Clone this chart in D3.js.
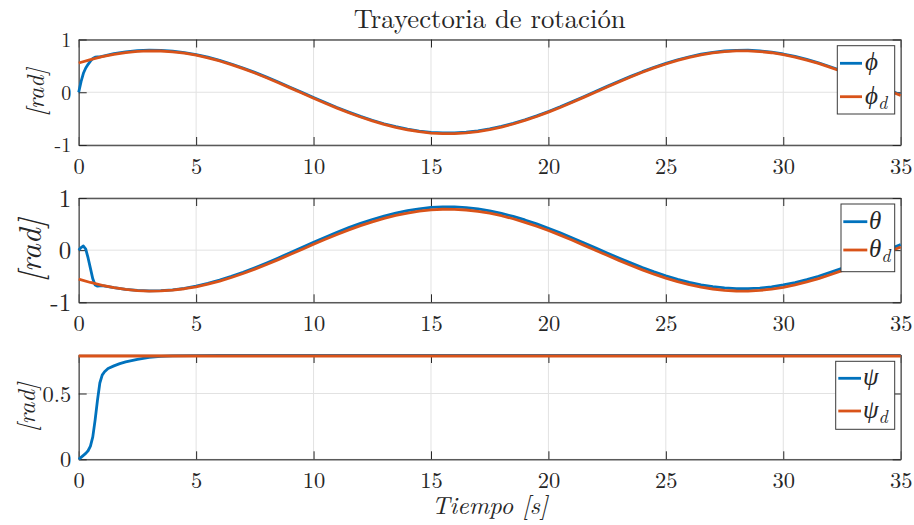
<!DOCTYPE html>
<html>
<head>
<meta charset="utf-8">
<script src="https://cdn.jsdelivr.net/npm/d3@7"></script>
<style>
  html, body { margin: 0; padding: 0; background: #fff; }
  svg { display: block; }
</style>
</head>
<body>
<svg id="chart" width="914" height="525"></svg>
<script>
// ---- data -------------------------------------------------------------
const titleText = "Trayectoria de rotación";
const xLabelText = "Tiempo [s]";
const yLabelText = "[rad]";
const xTicks = [0, 5, 10, 15, 20, 25, 30, 35];
const yTicksAngle = [-1, 0, 1];
const yTicksPsi = [0, 0.5];

// reference time grid (s)
const tRef = [0,0.5,1,1.5,2,2.5,3,3.5,4,4.5,5,5.5,6,6.5,7,7.5,8,8.5,9,9.5,10,10.5,11,11.5,12,12.5,13,13.5,14,14.5,15,15.5,16,16.5,17,17.5,18,18.5,19,19.5,20,20.5,21,21.5,22,22.5,23,23.5,24,24.5,25,25.5,26,26.5,27,27.5,28,28.5,29,29.5,30,30.5,31,31.5,32,32.5,33,33.5,34,34.5,35];

// desired roll angle phi_d (rad)
const phiDes = [0.555,0.620,0.675,0.720,0.753,0.775,0.785,0.782,0.767,0.740,0.702,0.653,0.593,0.524,0.448,0.364,0.275,0.181,0.083,-0.014,-0.112,-0.208,-0.301,-0.388,-0.470,-0.543,-0.609,-0.665,-0.711,-0.748,-0.774,-0.784,-0.783,-0.770,-0.745,-0.708,-0.660,-0.602,-0.534,-0.459,-0.376,-0.288,-0.194,-0.097,0.001,0.099,0.196,0.289,0.378,0.461,0.536,0.604,0.661,0.709,0.745,0.770,0.783,0.784,0.772,0.749,0.713,0.667,0.610,0.546,0.472,0.393,0.310,0.220,0.125,0.030,-0.060];

// desired pitch angle theta_d (rad)
const thetaDes = [-0.555,-0.620,-0.675,-0.720,-0.753,-0.775,-0.785,-0.782,-0.767,-0.740,-0.702,-0.653,-0.593,-0.524,-0.448,-0.364,-0.275,-0.181,-0.083,0.014,0.112,0.208,0.301,0.388,0.470,0.543,0.609,0.665,0.711,0.748,0.774,0.784,0.783,0.770,0.745,0.708,0.660,0.602,0.534,0.459,0.376,0.288,0.194,0.097,-0.001,-0.099,-0.196,-0.289,-0.378,-0.461,-0.536,-0.604,-0.661,-0.709,-0.745,-0.770,-0.783,-0.784,-0.772,-0.749,-0.713,-0.667,-0.610,-0.546,-0.472,-0.393,-0.310,-0.220,-0.125,-0.030,0.060];

// measured roll angle phi (rad)
const tPhi = [0,0.1,0.2,0.3,0.4,0.5,0.6,0.7,0.8,0.9,1,1.5,2,2.5,3,3.5,4,4.5,5,5.5,6,6.5,7,7.5,8,8.5,9,9.5,10,10.5,11,11.5,12,12.5,13,13.5,14,14.5,15,15.5,16,16.5,17,17.5,18,18.5,19,19.5,20,20.5,21,21.5,22,22.5,23,23.5,24,24.5,25,25.5,26,26.5,27,27.5,28,28.5,29,29.5,30,30.5,31,31.5,32,32.5,33,33.5,34,34.5,35];
const phiMeas = [0,0.20,0.36,0.46,0.53,0.59,0.64,0.665,0.670,0.670,0.680,0.732,0.765,0.787,0.797,0.794,0.779,0.752,0.714,0.665,0.605,0.536,0.460,0.376,0.287,0.193,0.095,-0.002,-0.100,-0.196,-0.289,-0.376,-0.458,-0.531,-0.597,-0.653,-0.699,-0.736,-0.762,-0.772,-0.771,-0.758,-0.733,-0.696,-0.648,-0.590,-0.522,-0.447,-0.364,-0.276,-0.182,-0.085,0.013,0.111,0.208,0.301,0.390,0.473,0.548,0.616,0.673,0.721,0.757,0.782,0.795,0.796,0.784,0.761,0.725,0.679,0.622,0.558,0.484,0.405,0.322,0.232,0.137,0.042,-0.048];

// measured pitch angle theta (rad)
const tTheta = tPhi;
const thetaMeas = [0,0.05,0.08,0.02,-0.15,-0.35,-0.55,-0.67,-0.69,-0.685,-0.680,-0.720,-0.753,-0.773,-0.782,-0.777,-0.760,-0.731,-0.690,-0.638,-0.575,-0.503,-0.425,-0.338,-0.246,-0.149,-0.049,0.050,0.150,0.248,0.343,0.431,0.514,0.588,0.654,0.710,0.756,0.793,0.819,0.829,0.828,0.815,0.790,0.753,0.705,0.647,0.579,0.504,0.421,0.333,0.239,0.142,0.044,-0.054,-0.151,-0.244,-0.333,-0.416,-0.491,-0.559,-0.616,-0.664,-0.700,-0.725,-0.738,-0.739,-0.727,-0.704,-0.668,-0.622,-0.565,-0.501,-0.427,-0.348,-0.265,-0.175,-0.080,0.015,0.105];

// yaw angle psi and its reference psi_d (rad)
const tPsi = [0,0.1,0.2,0.3,0.4,0.5,0.6,0.7,0.8,0.9,1,1.1,1.25,1.5,1.75,2,2.5,3,3.5,4,5,6,10,15,20,25,30,35];
const psiMeas = [0,0.015,0.03,0.045,0.065,0.10,0.17,0.30,0.45,0.58,0.64,0.665,0.69,0.71,0.727,0.74,0.76,0.775,0.782,0.786,0.788,0.789,0.789,0.790,0.790,0.790,0.790,0.790];
const tPsiDes = [0, 35];
const psiDes = [0.785, 0.785];

// ---- drawing ----------------------------------------------------------
const svg = d3.select("#chart");
const BLUE = "#0072BD", ORANGE = "#D95319", INK = "#262626";
const ROMAN = '"Latin Modern Roman", "Liberation Serif", serif';
const GREEK = '"Liberation Serif", serif';
const left = 78.7, right = 900.7;

// scale a text's font size so that its rendered width is the wanted one
function fitWidth(sel, width) {
  const w = sel.node().getComputedTextLength();
  const fs = parseFloat(sel.style("font-size"));
  if (w > 0) sel.style("font-size", (fs * width / w).toFixed(2) + "px");
}

const x = d3.scaleLinear().domain([0, 35]).range([left, right]);

const panels = [
  { top: 39.5, bottom: 145, domain: [-1, 1], ticks: yTicksAngle, yTickSize: 20, yLabelW: 48, yLabelX: 34,
    series: [{ t: tPhi, v: phiMeas, c: BLUE }, { t: tRef, v: phiDes, c: ORANGE }],
    legend: { x0: 837.3, x1: 894.7, y0: 45.7, y1: 114, ly: [63.3, 96.7], lx0: 840, lx1: 862, tx: 865, sym: "ϕ" } },
  { top: 198, bottom: 302.3, domain: [-1, 1], ticks: yTicksAngle, yTickSize: 25, yLabelW: 63, yLabelX: 28,
    series: [{ t: tTheta, v: thetaMeas, c: BLUE }, { t: tRef, v: thetaDes, c: ORANGE }],
    legend: { x0: 841, x1: 894.7, y0: 204, y1: 271.7, ly: [221.7, 250], lx0: 843.3, lx1: 867.3, tx: 869, sym: "θ" } },
  { top: 355, bottom: 459.3, domain: [0, 0.7927], ticks: yTicksPsi, yTickSize: 22.5, yLabelW: 49, yLabelX: 25,
    series: [{ t: tPsi, v: psiMeas, c: BLUE }, { t: tPsiDes, v: psiDes, c: ORANGE }],
    legend: { x0: 835.7, x1: 894.7, y0: 361.3, y1: 429.3, ly: [378.3, 411], lx0: 838.3, lx1: 861, tx: 863, sym: "ψ" } }
];

panels.forEach(p => {
  const y = d3.scaleLinear().domain(p.domain).range([p.bottom, p.top]);
  const g = svg.append("g");

  // grid
  g.append("g").selectAll("line").data(xTicks).join("line")
    .attr("x1", d => x(d)).attr("x2", d => x(d))
    .attr("y1", p.top).attr("y2", p.bottom)
    .attr("stroke", "#e2e2e2").attr("stroke-width", 1);
  g.append("g").selectAll("line").data(p.ticks).join("line")
    .attr("x1", left).attr("x2", right)
    .attr("y1", d => y(d)).attr("y2", d => y(d))
    .attr("stroke", "#e2e2e2").attr("stroke-width", 1);

  // axes (ticks pointing inward on all four sides)
  const fmt = d => (d < 0 ? "-" : "") + String(Math.abs(d));
  const axB = g.append("g").attr("transform", `translate(0,${p.bottom})`)
    .call(d3.axisBottom(x).tickValues(xTicks).tickSizeInner(-8).tickSizeOuter(0).tickPadding(13).tickFormat(fmt));
  const axT = g.append("g").attr("transform", `translate(0,${p.top})`)
    .call(d3.axisTop(x).tickValues(xTicks).tickSizeInner(-8).tickSizeOuter(0).tickFormat(""));
  const axL = g.append("g").attr("transform", `translate(${left},0)`)
    .call(d3.axisLeft(y).tickValues(p.ticks).tickSizeInner(-8).tickSizeOuter(0).tickPadding(7.5).tickFormat(fmt));
  const axR = g.append("g").attr("transform", `translate(${right},0)`)
    .call(d3.axisRight(y).tickValues(p.ticks).tickSizeInner(-8).tickSizeOuter(0).tickFormat(""));
  [axB, axT, axL, axR].forEach(a => {
    a.select(".domain").attr("stroke", "#595959").attr("stroke-width", 1.4);
    a.selectAll(".tick line").attr("stroke", INK).attr("stroke-width", 1);
    a.selectAll(".tick text").attr("fill", INK).style("font-family", ROMAN);
  });
  axB.selectAll(".tick text").style("font-size", "22.5px");
  axL.selectAll(".tick text").style("font-size", p.yTickSize + "px").attr("dy", "0.34em");

  // y label
  const yl = g.append("text")
    .attr("transform", `translate(${p.yLabelX},${(p.top + p.bottom) / 2}) rotate(-90)`)
    .attr("text-anchor", "middle").attr("dominant-baseline", "central")
    .attr("fill", INK)
    .style("font-family", ROMAN).style("font-size", "22px").style("font-style", "italic")
    .text(yLabelText);
  fitWidth(yl, p.yLabelW);

  // data lines
  const line = d3.line().x(d => x(d[0])).y(d => y(d[1]));
  p.series.forEach(s => {
    g.append("path")
      .datum(s.t.map((t, i) => [t, s.v[i]]))
      .attr("d", line).attr("fill", "none")
      .attr("stroke", s.c).attr("stroke-width", 2.8)
      .attr("stroke-linejoin", "round").attr("stroke-linecap", "butt");
  });

  // legend
  const L = p.legend;
  g.append("rect").attr("x", L.x0).attr("y", L.y0)
    .attr("width", L.x1 - L.x0).attr("height", L.y1 - L.y0)
    .attr("fill", "#fff").attr("stroke", "#3a3a3a").attr("stroke-width", 1);
  [BLUE, ORANGE].forEach((c, i) => {
    g.append("line").attr("x1", L.lx0).attr("x2", L.lx1)
      .attr("y1", L.ly[i]).attr("y2", L.ly[i])
      .attr("stroke", c).attr("stroke-width", 2.8);
    const t = g.append("text").attr("x", L.tx).attr("y", L.ly[i] + 7)
      .attr("fill", INK)
      .style("font-family", GREEK).style("font-size", "25px").style("font-style", "italic");
    t.append("tspan").text(L.sym);
    if (i === 1) t.append("tspan").attr("dy", 5)
      .style("font-family", ROMAN).style("font-size", "18px").text("d");
  });
});

// title and x label
const title = svg.append("text").attr("x", (left + right) / 2).attr("y", 28)
  .attr("text-anchor", "middle").attr("fill", INK)
  .style("font-family", ROMAN).style("font-size", "24px").text(titleText);
fitWidth(title, 272);
const xl = svg.append("text").attr("x", (left + right) / 2).attr("y", 514)
  .attr("text-anchor", "middle").attr("fill", INK)
  .style("font-family", ROMAN).style("font-size", "24px").style("font-style", "italic")
  .text(xLabelText);
fitWidth(xl, 116);
</script>
</body>
</html>
